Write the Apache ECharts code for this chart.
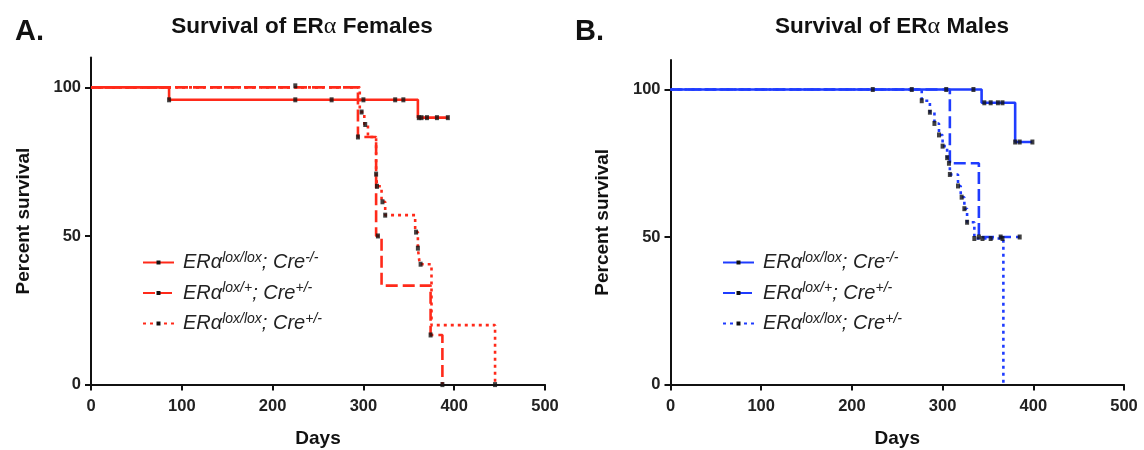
<!DOCTYPE html>
<html><head><meta charset="utf-8">
<script src="https://cdn.jsdelivr.net/npm/echarts@6/dist/echarts.min.js"></script>
<style>html,body{margin:0;padding:0;background:#fff}#c{width:1144px;height:450px}</style>
</head><body><div id="c"></div>
<script>
// ---- tick values ----
const xTicks = [0, 100, 200, 300, 400, 500];
const yTicks = [0, 50, 100];

// ---- legend labels (ERα genotype, superscripts) ----
const genoSup = [['lox/lox', '-/-'], ['lox/+', '+/-'], ['lox/lox', '+/-']];

// ---- Panel A: Females. Kaplan-Meier steps [day, percent survival] ----
const femCtrl = [[0,100],[86,95.8],[360,89.8],[394,89.8]];
const femCtrlCens = [[86,95.8],[225,95.8],[265,95.8],[300,95.8],[335,95.8],[344,95.8],[361,89.8],[364,89.8],[370,89.8],[381,89.8],[393,89.8]];
const femHet = [[0,100],[294,83.3],[314,50],[320,33.3],[374,16.7],[387,0]];
const femHetCens = [[225,100.5],[294,83.3],[316,50],[374,16.7],[387,0]];
const femCre = [[0,100],[296,91.7],[301,87.5],[305,83.3],[314,70.8],[315,66.7],[320,61.5],[324,57.0],[357,51.3],[360,45.9],[362,40.5],[375,20],[445,0]];
const femCreCens = [[298,91.7],[302,87.5],[314,70.8],[315,66.7],[321,61.5],[324,57.0],[358,51.3],[360,45.9],[363,40.5],[445,0]];

// ---- Panel B: Males ----
const maleCtrl = [[0,100],[343,95.5],[380,82.2],[399,82.2]];
const maleCtrlCens = [[223,100],[266,100],[304,100],[334,100],[346,95.5],[353,95.5],[361,95.5],[366,95.5],[380,82.2],[385,82.2],[399,82.2]];
const maleHet = [[0,100],[308,75],[340,50],[385,50]];
const maleHetCens = [[307,75],[340,50],[364,50],[385,50]];
const maleCre = [[0,100],[277,96.2],[286,92.3],[291,88.5],[296,84.6],[300,80.8],[305,76.9],[308,71.2],[317,67.3],[320,63.5],[324,59.6],[327,55.0],[335,49.5],[367,0]];
const maleCreCens = [[277,96.2],[286,92.3],[291,88.5],[296,84.6],[300,80.8],[305,76.9],[308,71.2],[317,67.3],[321,63.5],[324,59.6],[327,55.0],[335,49.5],[344,49.5],[353,49.5],[366,49.5]];

const RED = '#ff2a1a', BLUE = '#1f3cff';
const FONT = 'Liberation Sans';
const DASH = [12, 5], DOT = [3, 4];

function km(name, data, color, type, idx, z) {
  return {
    type: 'line', name, data, step: 'end', xAxisIndex: idx, yAxisIndex: idx,
    symbol: 'rect', symbolSize: [4, 5], showSymbol: false, silent: true, z,
    lineStyle: { color, width: 2.6, type },
    itemStyle: { color: '#111' }
  };
}
function cens(data, idx) {
  return {
    type: 'scatter', data, xAxisIndex: idx, yAxisIndex: idx, silent: true, z: 10,
    symbol: 'rect', symbolSize: [4, 5], itemStyle: { color: '#111' }
  };
}
function xAx(idx) {
  return {
    type: 'value', gridIndex: idx, min: 0, max: 500, interval: 100,
    name: 'Days', nameLocation: 'middle', nameGap: 45,
    nameTextStyle: { fontFamily: FONT, fontWeight: 'bold', fontSize: 19, color: '#111' },
    axisLine: { lineStyle: { color: '#111', width: 2 } },
    axisTick: { length: 6, lineStyle: { color: '#111', width: 2 } },
    axisLabel: { margin: 13, fontFamily: FONT, fontWeight: 'bold', fontSize: 16.5, color: '#222' },
    splitLine: { show: false }
  };
}
function yAx(idx) {
  return {
    type: 'value', gridIndex: idx, min: 0, max: 110,
    name: 'Percent survival', nameLocation: 'middle', nameGap: 58,
    nameTextStyle: { fontFamily: FONT, fontWeight: 'bold', fontSize: 19, color: '#111' },
    axisLine: { show: true, lineStyle: { color: '#111', width: 2 } },
    axisTick: { show: true, length: 6, customValues: yTicks, lineStyle: { color: '#111', width: 2 } },
    axisLabel: { margin: 10, customValues: yTicks, fontFamily: FONT, fontWeight: 'bold', fontSize: 16.5, color: '#222' },
    splitLine: { show: false }
  };
}
const rich = {
  g: { width: 4 },
  m: { fontFamily: FONT, fontStyle: 'italic', fontSize: 20, color: '#222' },
  s: { fontFamily: FONT, fontStyle: 'italic', fontSize: 14, color: '#222', padding: [0, 0, 9, 0] }
};
function legendFmt(name) {
  const i = Number(name.slice(1)) - 1;
  return '{g|}{m|ERα}{s|' + genoSup[i][0] + '}{m|; Cre}{s|' + genoSup[i][1] + '}';
}
function legend(names, left) {
  return {
    data: names, left, top: 246, orient: 'vertical', itemWidth: 31, itemHeight: 5, itemGap: 9,
    selectedMode: false, formatter: legendFmt, textStyle: { rich }
  };
}
const titleStyle = {
  fontFamily: FONT, fontWeight: 'bold', fontSize: 22.5, color: '#111',
  rich: { a: { fontFamily: 'Liberation Serif', fontWeight: 'normal', fontSize: 24, color: '#111' },
          b: { fontFamily: FONT, fontWeight: 'bold', fontSize: 22.5, color: '#111' } }
};

const option = {
  animation: false,
  backgroundColor: '#fff',
  title: [
    { text: 'A.', left: 10, top: 12, textStyle: { fontFamily: FONT, fontWeight: 'bold', fontSize: 29, color: '#111' } },
    { text: '{b|Survival of ER}{a|α}{b| Females}', left: 297, top: 10, textAlign: 'center', textStyle: titleStyle },
    { text: 'B.', left: 570, top: 12, textStyle: { fontFamily: FONT, fontWeight: 'bold', fontSize: 29, color: '#111' } },
    { text: '{b|Survival of ER}{a|α}{b| Males}', left: 887, top: 10, textAlign: 'center', textStyle: titleStyle }
  ],
  grid: [
    { left: 91, top: 57.6, width: 454, height: 327, outerBoundsMode: 'none', containLabel: false },
    { left: 670.5, top: 60, width: 453.5, height: 324.5, outerBoundsMode: 'none', containLabel: false }
  ],
  xAxis: [xAx(0), xAx(1)],
  yAxis: [yAx(0), yAx(1)],
  legend: [legend(['A1', 'A2', 'A3'], 137), legend(['B1', 'B2', 'B3'], 717)],
  series: [
    km('A3', femCre, RED, DOT, 0, 2),
    km('A2', femHet, RED, DASH, 0, 3),
    km('A1', femCtrl, RED, 'solid', 0, 4),
    cens(femCtrlCens, 0), cens(femHetCens, 0), cens(femCreCens, 0),
    km('B3', maleCre, BLUE, DOT, 1, 2),
    km('B2', maleHet, BLUE, DASH, 1, 3),
    km('B1', maleCtrl, BLUE, 'solid', 1, 4),
    cens(maleCtrlCens, 1), cens(maleHetCens, 1), cens(maleCreCens, 1)
  ]
};
echarts.init(document.getElementById('c'), null, { renderer: 'canvas' }).setOption(option);
</script></body></html>
